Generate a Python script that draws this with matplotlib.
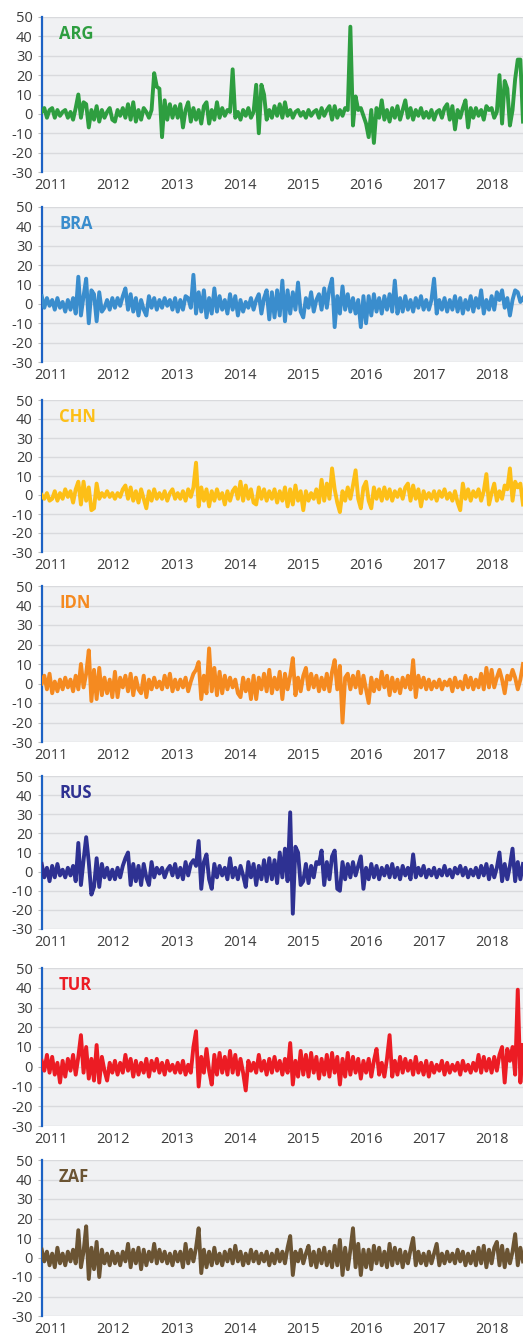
import numpy as np
import pandas as pd
import matplotlib
matplotlib.use('Agg')
import matplotlib.pyplot as plt

# semi-monthly readings, Nov 2010 .. mid 2018 (one row per year)
ARG = [1, 3, -2, 2,
       3, -2, 2, -1, 1, 2, -2, 1, -3, 3, 10, -2, 6, 5, -7, 2, -3, 4, -4, 2, -2, 1, 3, -3,
       -4, 2, -1, 3, -2, 5, -3, 6, -4, 2, -3, 3, 1, -2, 2, 21, 14, 13, -12, 7, -3, 5, -2, 4,
       -2, 5, -7, 2, 6, -4, 3, -3, 2, -5, 4, 6, -5, 2, -3, 6, -2, 3, -1, 2, 1, 23, -2, 1,
       -3, 2, -1, 3, -2, 1, 15, -10, 15, 10, -3, 2, -2, 4, -1, 5, -2, 6, -1, 2, -2, 1, 2, -1,
       1, -2, 2, -1, 1, 2, -2, 3, -1, 2, 4, -3, 4, -2, 2, -1, 3, 2, 45, -6, 9, 2, 3, -1,
       -5, -12, 2, -15, 3, -2, 7, -3, 2, -4, 3, -2, 4, -3, 2, 7, -2, 3, -3, 2, -1, 3, -2, 1,
       -2, 2, -3, 1, 2, -2, 3, 5, -3, 4, -8, 2, -2, 3, 7, -7, 3, -2, 3, -1, 2, -3, 4, 2,
       3, -2, 1, 20, -5, 17, 13, -6, 2, 18, 28, 28, -4]

BRA = [4, -2, 3, -1,
       2, -3, 3, -2, 1, -4, 2, -3, 3, -5, 14, -6, 4, 13, -10, 7, 5, -9, 6, -4, -2, 2, -3, 3,
       -2, 3, -1, 4, 8, -3, 5, -4, 3, -6, 2, -3, -6, 4, -2, 3, -3, 2, -2, 3, -1, 2, -3, 3,
       -4, 2, -3, 4, 3, -2, 15, -5, 6, -4, 7, -7, 3, -5, 8, -4, 4, -3, 2, -5, 5, -3, 4, -6,
       2, -4, 1, -2, 3, -3, 2, 5, -5, 3, 7, -8, 6, -7, 7, -6, 12, -9, 7, -5, 6, -3, 11, -4,
       -7, 3, -2, 6, -4, 2, 5, -3, 8, -2, 8, 13, -12, 4, -5, 9, -3, 5, -4, 3, -5, 2, -12, 4,
       -10, 4, -6, 5, -4, 3, -5, 4, -3, 5, -4, 12, -5, 3, -4, 4, -3, 2, -4, 3, -2, 4, -3, 2,
       -3, 2, 13, -5, 2, -3, 3, -4, 2, -3, 4, -4, 3, -5, 2, -3, 4, -4, 3, -2, 7, -5, 2, -3,
       4, -3, 6, 2, 7, -2, 3, -6, 2, 7, 6, 1, 3]

CHN = [0, -2, 1, -3,
       -2, 2, -3, 1, -2, 3, -1, 2, -4, 3, 7, -5, 7, -3, 4, -8, -7, 6, -2, 1, -1, 2, -1, 1,
       -2, 1, -1, 3, 5, -2, 4, -3, 2, -4, 3, -2, -7, 2, -3, 3, -2, 1, -2, 2, -3, 1, 3, -2,
       1, -2, 2, -3, 3, -1, 4, 17, -6, 4, -3, 3, -6, 2, -3, 3, -2, 1, -5, 2, -3, 2, 4, -2,
       7, -3, 5, -2, 3, -4, -5, 4, -2, 3, -3, 2, -2, 3, -4, 2, -3, 4, -6, 3, -5, 5, -3, 2,
       -8, 2, -3, 1, -2, 3, -4, 8, -3, 6, -2, 14, 3, -4, -9, 2, -3, 4, -2, 5, 13, -2, -7, 4,
       7, -3, -7, 4, -2, 3, -3, 4, -2, 3, -3, 2, -1, 3, -2, 4, 6, -3, 5, -2, 3, -6, 2, -2,
       1, -2, 2, -3, 2, -1, 3, -2, 1, -3, 2, -4, -8, 6, -2, 3, -3, 2, -1, 3, -3, 2, 11, -5,
       1, 6, -3, 2, -2, 5, 3, 14, -3, 7, 4, 6, -5]

IDN = [0, 4, -3, 5,
       -5, 1, -4, 2, -3, 3, -2, 2, -4, 4, -3, 10, -2, 5, 17, -9, 7, -8, 8, -6, 3, -5, 2, -7,
       6, -7, 3, -2, 4, -4, 5, -6, 3, -3, -5, 4, -7, 2, -3, 3, -2, 1, -3, 4, -2, 5, -4, 2,
       -3, 2, -2, 3, -4, 1, 5, 7, 11, -8, 4, -5, 18, -4, 8, -6, 6, -5, 4, -3, 3, -2, 2, -5,
       -7, 3, -4, 2, -8, 4, -8, 3, -3, 5, -4, 7, -5, 3, -3, 6, -8, 5, -3, 4, 13, -6, 3, -4,
       4, 8, -3, 5, -2, 4, -4, 3, -3, 5, -4, 6, 12, -3, 9, -20, 3, 5, -3, 4, -2, 6, -5, 4,
       -3, -10, 3, -4, 2, -3, 6, -2, 4, -6, 3, -4, 2, -5, 3, -2, 4, -3, 12, -7, 4, -2, 3, -3,
       2, -3, 1, -2, 2, -3, 1, -1, 2, -4, 3, -2, 1, -3, 4, -2, 3, -3, 2, -2, 5, -3, 8, -2,
       7, -2, 3, 7, 2, -5, 4, 2, 7, 3, -3, 2, 10]

RUS = [4, -3, 2, -5,
       3, -3, 4, -2, 1, -3, 2, -2, 3, -5, 15, -7, 6, 18, 5, -12, -8, 7, -8, 4, -3, 2, -4, 1,
       -4, 2, -3, 3, 7, 10, -7, 4, -5, 3, -7, 4, -3, -7, 5, -3, 2, -1, 2, -3, 1, 3, -2, 4,
       -3, 2, -4, 5, -2, 4, 6, 3, 16, -9, 5, 9, -4, -9, 4, -3, 3, -2, 2, -4, 7, -3, 2, -4,
       3, -2, -8, 5, -3, 4, -7, 3, -4, 6, -5, 7, -4, 6, -6, 10, -3, 12, -5, 31, -22, 13, 10, -7,
       -5, 4, -6, 3, -3, 5, 4, 11, -7, 5, -4, 8, 11, -9, -10, 5, -4, 4, -3, 5, -2, 3, 8, -9,
       2, -4, 4, -3, 3, -4, 2, -2, 3, -3, 4, -3, 2, -4, 3, -2, 2, -4, 9, -3, 2, -2, 3, -3,
       1, -2, 2, -3, 1, -2, 3, -2, 1, -3, 2, -1, 3, -2, 2, -3, 1, -2, 2, -3, 3, -2, 4, -4,
       3, -3, 2, 10, -5, 4, -4, 3, 12, -5, 5, -4, 4]

TUR = [3, -2, 6, -3,
       5, -4, 2, -8, 3, -5, 4, -2, 6, -4, 5, 16, -3, 10, -6, 4, -7, 11, -8, 5, -2, -7, 2, -3,
       3, -4, 2, -3, 6, -2, 4, -5, 3, -4, 2, -3, 4, -5, 3, -2, 4, -3, 2, -4, 3, -2, 1, -3,
       2, -3, 3, -4, 1, -3, 10, 18, -10, 5, -3, 9, -2, -9, 6, -4, 7, -3, 5, -4, 8, -3, 6, -4,
       4, -3, -12, 3, -2, 2, -3, 6, -2, 3, -4, 4, -3, 5, -2, 3, -4, 4, -3, 12, -9, 3, -5, 8,
       -4, 6, -5, 7, -3, 5, -6, 4, -4, 6, -5, 7, -3, 5, -9, 4, -5, 7, -4, 5, -3, 4, -6, 3,
       -3, 4, -5, 3, 9, -4, 2, -5, 4, 16, -5, 3, -4, 5, -3, 4, -2, 3, -4, 5, -3, 2, -4, 3,
       -5, 2, -3, 1, -2, 3, -4, 2, -3, 1, -2, 2, -4, 3, -2, 1, -3, 2, -2, 6, -3, 5, -2, 4,
       -3, 5, -2, 6, 10, -8, 9, 3, 10, -4, 39, -8, 11]

ZAF = [4, -2, 3, -4,
       2, -5, 5, -3, 2, -4, 3, -2, 4, -3, 14, -5, 3, 16, -11, 5, -6, 8, -10, 4, -3, 2, -4, 3,
       -3, 2, -4, 3, -2, 7, -5, 4, -3, 5, -6, 4, -4, 3, -2, 7, -3, 4, -2, 3, -3, 2, -4, 3,
       -2, 3, -5, 7, -3, 4, -2, 5, 15, -8, 4, -5, 3, -4, 5, -3, 2, -4, 3, -2, 4, -3, 6, -2,
       3, -4, 2, -3, 4, -2, 3, -3, 2, -2, 3, -4, 2, -3, 4, -2, 3, -3, 5, 11, -9, 3, -2, 4,
       -3, 2, 6, -4, 3, -5, 4, -3, 5, -4, 3, -5, 6, -4, 9, -9, 5, -6, 4, 15, -5, 7, -9, 4,
       -5, 4, -6, 6, -3, 5, -4, 3, -5, 7, -4, 5, -3, 4, -5, 3, -3, 4, 10, -4, 3, -3, 2, -4,
       3, -3, 2, 7, -4, 2, -3, 3, -2, 2, -3, 4, -2, 3, -4, 2, -3, 3, -4, 5, -3, 6, -5, 4,
       -3, 5, 8, -4, 6, -5, 4, -3, 3, 12, -4, 5, -2]

countries = ['ARG', 'BRA', 'CHN', 'IDN', 'RUS', 'TUR', 'ZAF']
series = [ARG, BRA, CHN, IDN, RUS, TUR, ZAF]
colors = ['#2e9e40', '#3a8dcd', '#fdbf17', '#f58a20', '#2e3192', '#ec1c24', '#6b5433']
years = list(range(2011, 2019))
yticks = [-30, -20, -10, 0, 10, 20, 30, 40, 50]

# panel top / bottom in pixels
panel_px = [(17, 172), (207, 362), (400, 552), (586, 742), (776, 929), (968, 1126), (1160, 1316)]

W, H = 526, 1336
fig = plt.figure(figsize=(W / 100, H / 100), dpi=100)
plt.rcParams['font.family'] = ['Open Sans', 'DejaVu Sans']

start, end = pd.Timestamp('2010-11-11'), pd.Timestamp('2018-07-01')

for name, vals, col, (top, bot) in zip(countries, series, colors, panel_px):
    ax = fig.add_axes([41.7 / W, 1 - bot / H, (523 - 41.7) / W, (bot - top) / H])
    ax.set_facecolor('#f0f1f3')
    x = pd.date_range(start, end, periods=len(vals))
    ax.plot(x, vals, color=col, lw=2.8, solid_joinstyle='round', zorder=3)
    ax.set_xlim(start, end)
    ax.set_ylim(-30, 50)
    ax.set_yticks(yticks)
    ax.set_yticklabels([str(v) for v in yticks])
    ax.set_xticks([pd.Timestamp(str(y)) for y in years])
    ax.set_xticklabels([str(y) for y in years])
    ax.grid(axis='y', color='#d9dadd', lw=1.0, zorder=0)
    ax.set_axisbelow(True)
    for s in ['top', 'right', 'bottom']:
        ax.spines[s].set_visible(False)
    ax.spines['left'].set_color('#1c62c4')
    ax.spines['left'].set_linewidth(1.6)
    ax.tick_params(axis='y', length=3, color='#bbbbbb', labelsize=10.5, labelcolor='#3c3c3c', pad=3.5)
    ax.tick_params(axis='x', length=0, labelsize=10.5, labelcolor='#3c3c3c', pad=4)
    ax.text(0.036, 0.95, name, transform=ax.transAxes, color=col, fontsize=12,
            fontweight='bold', va='top', ha='left', zorder=4)

fig.savefig('out.png', dpi=100)
